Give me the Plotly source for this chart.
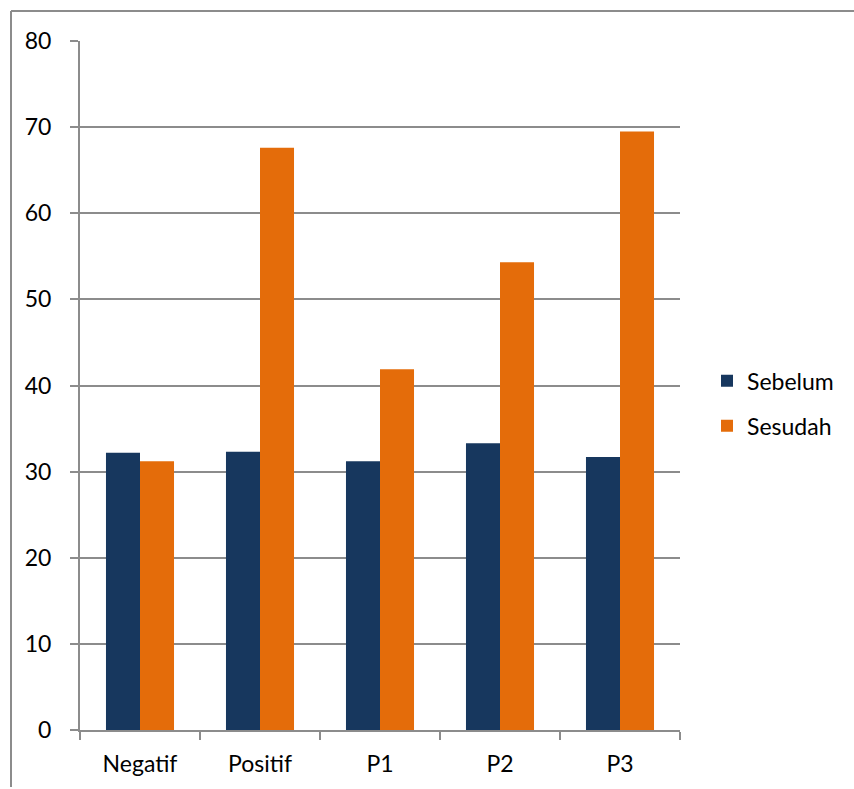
import plotly.graph_objects as go

# Grouped bar chart: values before (Sebelum) and after (Sesudah) per group
categories = ["Negatif", "Positif", "P1", "P2", "P3"]
sebelum = [32.2, 32.3, 31.2, 33.3, 31.7]
sesudah = [31.2, 67.6, 41.9, 54.3, 69.5]
y_ticks = [0, 10, 20, 30, 40, 50, 60, 70, 80]

NAVY = "#17375E"
ORANGE = "#E46C0A"
GRID = "#8C8C8C"
FONT = "Lato"

fig = go.Figure()
fig.add_trace(go.Bar(name="Sebelum", x=categories, y=sebelum,
                     marker=dict(color=NAVY, line=dict(width=0)),
                     legendgroup="a"))
fig.add_trace(go.Bar(name="Sesudah", x=categories, y=sesudah,
                     marker=dict(color=ORANGE, line=dict(width=0)),
                     legendgroup="b"))

fig.update_layout(
    width=854, height=789,
    margin=dict(l=80, r=174, t=41, b=59),
    paper_bgcolor="white", plot_bgcolor="white",
    barmode="group", bargap=0.433, bargroupgap=0,
    font=dict(family=FONT, size=23, color="#000000"),
    showlegend=True,
    legend=dict(x=1.045, y=0.474, xanchor="left", yanchor="middle",
                font=dict(size=23), tracegroupgap=12,
                itemwidth=30, bgcolor="rgba(0,0,0,0)"),
    xaxis=dict(
        type="category", showgrid=False,
        showline=True, linecolor=GRID, linewidth=2,
        ticks="outside", tickson="boundaries", ticklen=8,
        tickcolor=GRID, tickwidth=2,
        ticklabelstandoff=12,
    ),
    yaxis=dict(
        range=[0, 80], tickvals=y_ticks,
        showgrid=True, gridcolor=GRID, gridwidth=2,
        showline=True, linecolor=GRID, linewidth=2,
        ticks="outside", ticklen=8, tickcolor=GRID, tickwidth=2,
        ticklabelstandoff=14, zeroline=False,
    ),
    shapes=[
        # outer frame (left and top edges)
        dict(type="line", xref="paper", yref="paper",
             x0=-69 / 600, x1=-69 / 600, y0=1 + 30 / 689, y1=-57 / 689,
             line=dict(color=GRID, width=2)),
        dict(type="line", xref="paper", yref="paper",
             x0=-69 / 600, x1=1 + 174 / 600, y0=1 + 30 / 689, y1=1 + 30 / 689,
             line=dict(color=GRID, width=2)),
    ],
)

fig.write_html("out.html")
